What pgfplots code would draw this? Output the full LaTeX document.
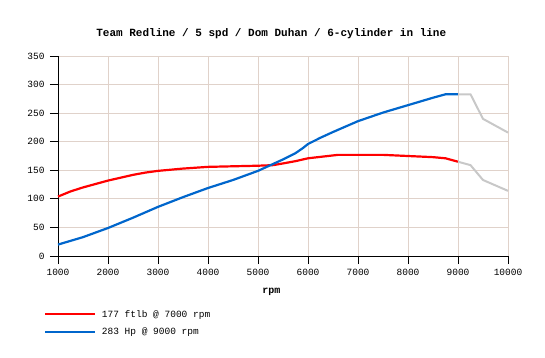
\documentclass[border=0pt]{standalone}
\usepackage{fontspec}
\setmainfont{Liberation Mono}
\usepackage{pgfplots}
\pgfplotsset{compat=1.18}
\definecolor{gridc}{RGB}{224,210,202}
\definecolor{tq}{RGB}{255,0,0}
\definecolor{hp}{RGB}{0,102,204}
\definecolor{gr}{RGB}{200,200,200}
\begin{document}
\begin{tikzpicture}
\useasboundingbox (-58pt,-101pt) rectangle (487pt,256pt);
\begin{axis}[
  at={(0pt,0pt)}, anchor=south west,
  scale only axis, width=450pt, height=200pt,
  xmin=1000, xmax=10000, ymin=0, ymax=350,
  xtick distance=1000, ytick distance=50,
  scaled ticks=false,
  axis x line*=bottom, axis y line*=left,
  axis line style={black, line width=0.8pt, -},
  tick style={black, line width=0.8pt},
  tick align=outside, major tick length=8pt,
  grid=major, grid style={gridc, line width=0.8pt},
  /pgf/number format/assume math mode=true,
  /pgf/number format/1000 sep={},
  ticklabel style={font=\fontsize{9.5}{11}\selectfont},
  xticklabel style={yshift=-2pt},
  yticklabel style={xshift=-2pt},
  title={\bfseries Team Redline / 5 spd / Dom Duhan / 6-cylinder in line},
  title style={at={(axis description cs:0.474,1.08)}, anchor=center, yshift=0pt, font=\fontsize{11}{13}\selectfont},
  xlabel={\bfseries rpm},
  xlabel style={at={(axis description cs:0.474,-0.178)}, anchor=center, font=\fontsize{10}{12}\selectfont},
  legend style={at={(axis description cs:-0.031,-0.27)}, anchor=north west, draw=none, fill=none,
    font=\fontsize{9.5}{11}\selectfont, row sep=9.5pt, inner sep=0pt, nodes={inner sep=0pt}},
  legend cell align=left,
  legend image code/.code={\draw[#1, line width=2pt] (0pt,0pt) -- (50pt,0pt) node[right=0pt]{\phantom{i}};},
  clip=false,
]
\addplot[tq, line width=2.2pt] coordinates {
(1000,104) (1250,113) (1500,120) (1750,126) (2000,132) (2250,137) (2500,142) (2750,146) (3000,149)
(3500,153) (4000,156) (4500,157) (5000,158) (5300,159) (5500,162) (5750,166) (6000,171) (6300,174) (6600,177)
(7000,177) (7500,177) (8000,175) (8500,173) (8750,171) (9000,165)};
\addlegendentry{177 ftlb @ 7000 rpm}
\addplot[hp, line width=2.2pt] coordinates {
(1000,20) (1500,33) (2000,49) (2500,67) (3000,86) (3500,103) (4000,119) (4500,133) (5000,149)
(5500,169) (5750,180) (5900,189) (6000,196) (6250,207) (6500,217) (7000,236) (7500,251) (8000,264) (8500,277) (8750,283) (9000,283)};
\addlegendentry{283 Hp @ 9000 rpm}
\addplot[gr, line width=2pt, forget plot] coordinates {
(9000,283) (9250,283) (9500,240) (10000,216)};
\addplot[gr, line width=2pt, forget plot] coordinates {
(9000,165) (9250,159) (9500,133) (10000,114)};
\end{axis}
\end{tikzpicture}
\end{document}
